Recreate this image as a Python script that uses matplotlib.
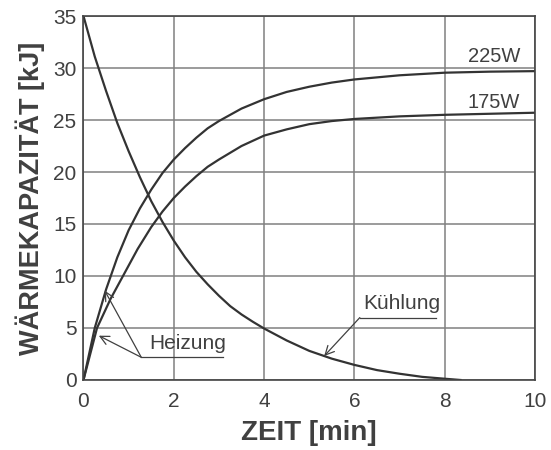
import matplotlib.pyplot as plt

plt.rcParams['font.family'] = ['Liberation Sans', 'DejaVu Sans']

# Heizung 225W
x_225 = [0, 0.25, 0.5, 0.75, 1.0, 1.25, 1.5, 1.75, 2.0, 2.25, 2.5, 2.75, 3.0, 3.5, 4.0,
         4.5, 5.0, 5.5, 6.0, 7.0, 8.0, 9.0, 10.0]
y_225 = [0, 5.0, 8.7, 11.8, 14.4, 16.5, 18.3, 19.9, 21.2, 22.3, 23.3, 24.2, 24.9, 26.1, 27.0,
         27.7, 28.2, 28.6, 28.9, 29.3, 29.55, 29.65, 29.7]

# Heizung 175W
x_175 = [0, 0.3, 0.6, 0.9, 1.2, 1.5, 1.75, 2.0, 2.25, 2.5, 2.75, 3.0, 3.5, 4.0,
         4.5, 5.0, 5.5, 6.0, 7.0, 8.0, 9.0, 10.0]
y_175 = [0, 5.0, 7.8, 10.2, 12.6, 14.7, 16.2, 17.5, 18.6, 19.6, 20.5, 21.2, 22.5, 23.5,
         24.1, 24.6, 24.9, 25.1, 25.35, 25.5, 25.6, 25.7]

# Kuehlung
x_cool = [0, 0.25, 0.5, 0.75, 1.0, 1.25, 1.5, 1.75, 2.0, 2.25, 2.5, 2.75, 3.0, 3.25, 3.5,
          3.75, 4.0, 4.5, 5.0, 5.5, 6.0, 6.5, 7.0, 7.5, 8.0, 8.35]
y_cool = [35, 31.1, 27.8, 24.7, 22.0, 19.5, 17.2, 15.2, 13.4, 11.8, 10.4, 9.2, 8.1, 7.1, 6.3,
          5.6, 4.95, 3.8, 2.8, 2.05, 1.45, 0.95, 0.6, 0.3, 0.12, 0]

xticks = [0, 2, 4, 6, 8, 10]
yticks = [0, 5, 10, 15, 20, 25, 30, 35]

txt = '#404040'
line = '#333333'

fig = plt.figure(figsize=(5.51, 4.5), dpi=100)
ax = fig.add_axes([0.1515, 0.1556, 0.8195, 0.8088])

ax.plot(x_225, y_225, color=line, lw=1.6)
ax.plot(x_175, y_175, color=line, lw=1.6)
ax.plot(x_cool, y_cool, color=line, lw=1.6)

ax.set_xlim(0, 10)
ax.set_ylim(0, 35)
ax.set_xticks(xticks)
ax.set_yticks(yticks)
ax.grid(color='#808080', lw=1.1)
ax.tick_params(length=0, labelsize=15, labelcolor=txt, pad=5)
ax.tick_params(axis='x', pad=9)
for s in ax.spines.values():
    s.set_color('#444444')
    s.set_linewidth(1.2)

ax.set_xlabel('ZEIT [min]', fontsize=20, fontweight='bold', color=txt, labelpad=6)
ax.set_ylabel('WÄRMEKAPAZITÄT [kJ]', fontsize=19.5, fontweight='bold', color=txt, labelpad=6)

# Kurvenbeschriftung
ax.text(9.67, 30.2, '225W', ha='right', va='bottom', fontsize=14.5, color=txt)
ax.text(9.67, 25.8, '175W', ha='right', va='bottom', fontsize=14.5, color=txt)

aprops = dict(arrowstyle='->', color=txt, lw=0.9, mutation_scale=16, shrinkA=0, shrinkB=0)

# Heizung
ax.plot([1.28, 3.09], [2.18, 2.18], color=txt, lw=0.9)
ax.text(1.45, 2.6, 'Heizung', fontsize=15, color=txt, va='bottom')
ax.annotate('', xy=(0.47, 8.6), xytext=(1.28, 2.18), arrowprops=aprops)
ax.annotate('', xy=(0.34, 4.26), xytext=(1.28, 2.18), arrowprops=aprops)

# Kuehlung
ax.plot([6.12, 7.8], [6.0, 6.0], color=txt, lw=0.9)
ax.text(6.2, 6.4, 'Kühlung', fontsize=15, color=txt, va='bottom')
ax.annotate('', xy=(5.33, 2.3), xytext=(6.12, 6.0), arrowprops=aprops)

plt.savefig('out.png', dpi=100)
